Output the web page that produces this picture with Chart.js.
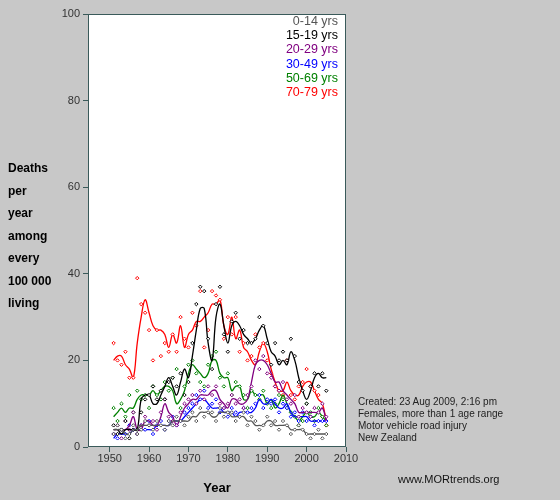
<!DOCTYPE html>
<html>
<head>
<meta charset="utf-8">
<script src="https://cdn.jsdelivr.net/npm/chart.js@4"></script>
<style>
  body { margin: 0; background: #c8c8c8; font-family: Arial, "Liberation Sans", sans-serif; }
  #wrap { position: relative; width: 560px; height: 500px; }
  .txt { position: absolute; font-size: 12px; white-space: nowrap; }
  #ytitle { left: 8px; top: 157px; font-weight: bold; font-size: 12px; line-height: 22.5px; }
  #legend { right: 222px; top: 14px; text-align: right; line-height: 14.2px; font-size: 12.5px; }
  #notes { left: 358px; top: 396px; font-size: 10px; line-height: 12px; color: #222; }
  #site { left: 398px; top: 473px; font-size: 11px; color: #111; }
</style>
</head>
<body>
<div id="wrap">
  <canvas id="chart" width="560" height="500"></canvas>
  <div class="txt" id="ytitle">Deaths<br>per<br>year<br>among<br>every<br>100 000<br>living</div>
  <div class="txt" id="legend"></div>
  <div class="txt" id="notes">Created: 23 Aug 2009, 2:16 pm<br>Females, more than 1 age range<br>Motor vehicle road injury<br>New Zealand</div>
  <div class="txt" id="site">www.MORtrends.org</div>
</div>
<script>
// Road injury death rates by age group, females, New Zealand 1951-2005.

const years = [];
for (let y = 1951; y <= 2005; y++) years.push(y);

const xTicks = [1950, 1960, 1970, 1980, 1990, 2000, 2010];
const yTicks = [0, 20, 40, 60, 80, 100];

const ageGroups = ["0-14 yrs", "15-19 yrs", "20-29 yrs", "30-49 yrs", "50-69 yrs", "70-79 yrs"];
const groupColors = ["#555555", "#000000", "#800080", "#0000ff", "#008000", "#ff0000"];

const greyLine = [4,4,4,3,3,4,4,5,5,5, 5,5,5,5,5,6,6,6,6,6, 7,7,8,8,8,7,7,8,8,8, 7,7,7,7,6,6,5,5,5,6, 6,5,5,5,5,4,4,4,4,3, 3,3,3,3,3];
const greyDots = [3,5,4,2,3,5,3,4,6,5, 4,6,5,4,6,5,7,6,5,7, 8,6,9,7,8,8,6,9,7,8, 8,6,7,8,5,7,6,4,5,7, 5,6,4,6,5,3,4,5,4,3, 2,3,4,2,3];

const blackLine = [4,4,3,4,4,4,4,11,12,12, 10,10,12,14,16,14,12,15,18,16, 21,27,32,32,24,20,30,33,28,24, 28,29,28,26,25,24,25,27,28,25, 22,21,19,20,19,22,20,16,13,11, 13,16,17,16,16];
const blackDots = [5,3,4,6,2,4,4,8,11,12, 14,11,13,11,15,16,14,17,12,15, 24,33,37,36,25,18,33,37,26,22, 29,31,25,27,24,24,25,30,28,24, 19,24,20,22,20,25,21,15,13,10, 14,17,14,17,13];

const purpleLine = [4,4,4,4,5,7,4,4,6,6, 5,5,7,10,8,7,5,7,9,10, 11,11,12,12,12,13,13,11,10,9, 11,11,10,10,11,15,19,20,20,19, 17,15,15,13,12,11,10,8,8,8, 8,8,8,9,6];
const purpleDots = [3,5,2,6,4,8,3,5,7,5, 6,4,8,11,7,6,5,8,10,11, 12,10,13,11,14,12,14,10,9,10, 12,10,11,9,12,14,20,18,21,17, 16,14,13,15,11,10,12,7,9,8, 7,9,8,10,7];

const blueLine = [2,3,3,3,3,4,4,4,4,4, 4,5,5,5,5,6,6,6,7,8, 9,10,11,11,10,9,9,9,8,8, 8,7,8,8,8,8,9,11,10,10, 11,10,9,9,10,8,7,7,7,7, 6,6,6,6,6];
const blueDots = [3,2,4,3,5,4,3,5,4,6, 3,5,6,4,6,7,5,6,8,9, 10,12,11,13,9,10,11,8,9,7, 9,8,7,9,8,9,10,12,9,11, 10,11,8,10,9,7,8,6,8,6, 7,5,6,6,6];

const greenLine = [7,8,9,8,9,9,11,12,12,12, 13,12,13,14,14,13,10,11,13,17, 19,18,17,16,17,20,20,17,16,16, 13,14,14,11,11,13,12,12,12,10, 11,9,10,12,10,8,7,6,7,8, 7,7,8,7,6];
const greenDots = [9,6,10,7,12,8,13,11,12,9, 14,12,11,15,13,16,18,9,14,19, 20,17,15,14,19,21,22,16,14,17, 12,15,14,12,9,13,12,11,13,10, 9,10,12,11,9,8,7,5,6,10, 8,6,9,7,5];

const redLine = [20,21,21,19,18,16,24,30,34,31, 28,27,27,26,23,26,24,28,23,26, 27,29,29,30,31,33,33,34,28,26, 30,25,27,23,22,20,19,22,24,22, 18,15,13,13,15,13,12,12,14,15, 15,13,11,10,6];
const redDots = [24,20,19,22,16,16,39,33,31,27, 20,27,21,24,22,26,22,30,25,23, 31,28,36,23,27,36,35,34,25,30, 26,30,22,24,20,21,26,23,24,20, 17,14,13,12,20,12,11,14,15,18, 14,13,12,7,5];

const lines = [greyLine, blackLine, purpleLine, blueLine, greenLine, redLine];
const dots = [greyDots, blackDots, purpleDots, blueDots, greenDots, redDots];

function toPoints(values) {
  return values.map((v, i) => ({ x: years[i], y: v }));
}

function buildDatasets() {
  const sets = [];
  ageGroups.forEach((name, i) => {
    sets.push({
      type: "scatter",
      label: name + " data",
      data: toPoints(dots[i]),
      pointStyle: "rectRot",
      pointRadius: 1.7,
      borderWidth: 1,
      borderColor: groupColors[i],
      backgroundColor: "#ffffff",
    });
    sets.push({
      type: "line",
      label: name,
      data: toPoints(lines[i]),
      borderColor: groupColors[i],
      borderWidth: 1.3,
      pointRadius: 0,
      tension: 0.4,
      fill: false,
    });
  });
  return sets;
}

const plotFrame = {
  id: "plotFrame",
  beforeDraw(chart) {
    const { ctx, chartArea: a } = chart;
    ctx.save();
    ctx.fillStyle = "#ffffff";
    ctx.fillRect(a.left, a.top, a.right - a.left, a.bottom - a.top);
    ctx.restore();
  },
  afterDraw(chart) {
    const { ctx, chartArea: a } = chart;
    ctx.save();
    ctx.strokeStyle = "#3a5a5a";
    ctx.lineWidth = 1;
    ctx.strokeRect(a.left + 0.5, a.top + 0.5, a.right - a.left - 1, a.bottom - a.top - 1);
    ctx.restore();
  },
};

function renderLegend() {
  const el = document.getElementById("legend");
  el.innerHTML = ageGroups
    .map((n, i) => `<div style="color:${groupColors[i]}">${n}</div>`)
    .join("");
}

const tickGrid = { display: true, drawOnChartArea: false, drawTicks: true, tickLength: 5, color: "#3a5a5a" };

function renderChart() {
  const ctx = document.getElementById("chart");
  new Chart(ctx, {
    data: { datasets: buildDatasets() },
    options: {
      responsive: false,
      animation: false,
      layout: { padding: { left: 0, right: 214, top: 14, bottom: 0 } },
      plugins: { legend: { display: false }, tooltip: { enabled: false } },
      scales: {
        x: {
          type: "linear",
          min: 1944.5,
          max: 2010,
          afterBuildTicks: (s) => { s.ticks = xTicks.map((v) => ({ value: v })); },
          afterFit: (s) => { s.height = 53; },
          grid: tickGrid,
          border: { display: false },
          ticks: { color: "#333", font: { size: 11, family: "Arial" }, padding: 0, callback: (v) => String(v) },
          title: { display: true, text: "Year", color: "#000", font: { size: 13, weight: "bold", family: "Arial" }, padding: { top: 4 } },
        },
        y: {
          min: 0,
          max: 100,
          afterBuildTicks: (s) => { s.ticks = yTicks.map((v) => ({ value: v })); },
          afterFit: (s) => { s.width = 88; },
          grid: tickGrid,
          border: { display: false },
          ticks: { color: "#333", font: { size: 11, family: "Arial" }, padding: 3 },
        },
      },
    },
    plugins: [plotFrame],
  });
}

document.addEventListener("DOMContentLoaded", () => {
  renderLegend();
  renderChart();
});
</script>
</body>
</html>
